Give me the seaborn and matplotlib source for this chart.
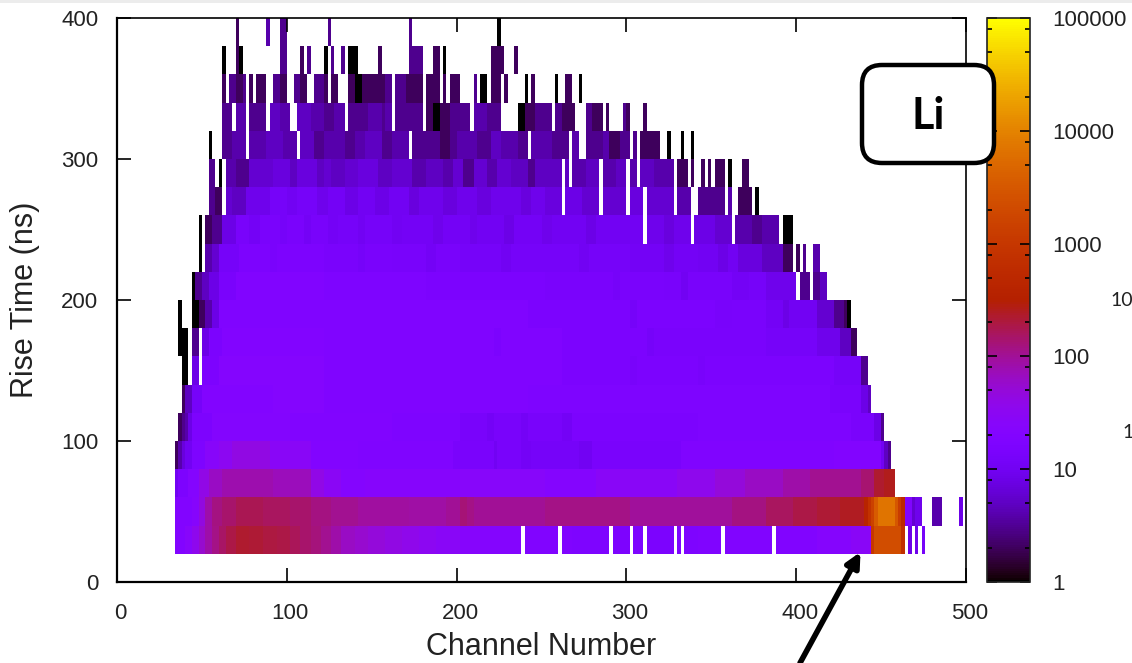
import numpy as np
import pandas as pd
import matplotlib
matplotlib.use('Agg')
import matplotlib.pyplot as plt
import seaborn as sns
from matplotlib.colors import ListedColormap, LogNorm
from matplotlib.patches import FancyBboxPatch, Rectangle
from matplotlib.transforms import ScaledTranslation

# histogram counts, each row: (first bin, last bin, count), one bin = 2 channels
rt_20 = [(17,19,20),(20,21,25),(22,23,35),(24,25,55),(26,27,85),(28,29,115),(30,31,150),(32,34,190),
         (35,38,230),(39,42,220),(43,46,200),(47,50,185),(51,53,165),(54,56,145),(57,59,125),(60,62,105),
         (63,65,85),(66,69,65),(70,73,55),(74,78,48),(79,83,42),(84,88,38),(89,93,33),(94,100,28),
         (101,106,24),(107,118,22),(120,129,19),(131,133,18),(134,144,17),(146,150,16),(152,154,17),
         (156,163,15),(165,165,17),(167,170,17),(171,177,18),(179,192,19),(194,205,19),(206,215,23),
         (216,221,28),(222,222,1000),(223,230,2200),(231,231,700),(233,233,8),(235,235,9),(237,237,12)]
rt_40 = [(17,21,20),(22,23,24),(24,25,45),(26,27,85),(28,30,120),(31,34,145),(35,42,175),(43,50,160),
         (51,56,145),(57,62,120),(63,70,105),(71,85,92),(86,96,88),(97,100,100),(101,102,130),(103,104,115),
         (105,125,100),(126,150,115),(151,180,95),(181,190,120),(191,198,160),(199,205,190),(206,212,220),
         (213,219,250),(220,220,400),(221,221,800),(222,222,1500),(223,223,3500),(224,228,7000),
         (229,229,3000),(230,230,1200),(231,231,500),(232,233,18),(234,234,6),(235,236,9),(240,242,4),
         (248,248,8)]
rt_60 = [(17,17,10),(18,20,16),(21,23,22),(24,26,40),(27,30,65),(31,45,80),(46,56,70),(57,60,40),(61,65,30),
         (66,72,22),(73,100,24),(101,125,26),(126,140,22),(141,164,28),(165,175,35),(176,184,50),(185,195,65),
         (196,203,85),(204,218,105),(219,222,140),(223,225,230),(226,228,260)]
rt_80 = [(17,17,2),(18,18,4),(19,19,7),(20,21,10),(22,25,17),(26,29,26),(30,33,32),(34,44,42),(45,56,28),
         (57,70,20),(71,98,18),(99,110,14),(111,111,10),(112,118,13),(119,121,11),(122,135,12),(136,139,10),
         (140,165,14),(166,210,18),(211,224,20),(225,225,10),(226,226,5),(227,227,3)]
rt_100 = [(18,18,2),(19,19,3),(20,20,4),(21,21,8),(22,27,16),(28,50,21),(51,80,19),(81,100,17),(101,108,13),
          (109,110,11),(111,118,13),(119,120,11),(121,130,13),(131,133,11),(134,170,15),(171,215,17),
          (216,222,14),(223,224,8),(225,225,3)]
rt_120 = [(19,19,2),(20,21,5),(22,24,12),(25,45,20),(46,60,22),(61,120,18),(121,209,17),(210,218,14),
          (219,220,8),(221,221,5)]
rt_140 = [(19,20,1),(22,23,8),(25,29,16),(30,60,22),(61,130,18),(131,150,15),(151,152,13),(153,170,15),
          (171,172,13),(173,210,15),(211,218,12),(219,220,3)]
rt_160 = [(18,20,1),(22,23,3),(25,26,8),(27,30,15),(31,60,20),(61,110,18),(111,112,15),(113,130,18),
          (131,155,15),(156,157,12),(158,190,14),(191,205,12),(206,212,9),(213,215,5),(216,217,2)]
rt_180 = [(18,18,1),(22,23,1),(24,25,2),(26,27,4),(28,29,8),(30,60,18),(61,120,18),(121,150,15),(151,152,12),
          (153,175,15),(176,180,13),(181,190,14),(191,195,11),(196,197,8),(198,205,10),(206,210,6),
          (211,213,3),(214,214,2),(215,215,1)]
rt_200 = [(22,22,1),(23,24,3),(25,26,5),(27,29,8),(30,34,14),(35,60,19),(61,90,17),(91,125,15),
          (126,145,14),(146,147,12),(148,160,14),(161,165,13),(166,167,10),(168,180,13),(181,185,11),
          (186,190,12),(191,199,9),(201,203,3),(205,206,3),(207,208,5)]
rt_220 = [(24,24,1),(26,27,4),(28,29,6),(30,35,12),(36,44,16),(45,46,14),(47,60,16),(61,70,14),(71,72,12),
          (73,80,14),(81,90,13),(91,93,11),(94,100,13),(101,112,12),(113,115,10),(116,125,12),(126,135,12),
          (136,138,10),(139,150,12),(151,160,11),(161,163,9),(164,170,11),(171,176,10),(177,179,8),
          (180,182,10),(183,189,7),(190,195,5),(196,198,2),(200,200,2),(202,202,3),(205,206,4)]
rt_240 = [(24,24,1),(26,27,2),(28,30,3),(31,34,8),(35,38,13),(39,41,11),(42,47,14),(48,49,12),(50,54,14),
          (55,56,11),(57,61,13),(62,64,11),(65,70,12),(71,72,10),(73,80,12),(81,83,10),(84,92,11),(93,95,9),
          (96,103,11),(104,105,9),(106,113,10),(114,116,8),(117,124,11),(125,127,9),(128,137,10),(138,140,8),
          (141,154,10),(156,160,9),(161,163,7),(164,168,9),(170,175,8),(176,180,6),(182,186,4),(187,189,3),
          (190,191,4),(192,194,4),(196,198,1)]
rt_260 = [(27,28,3),(29,30,2),(32,33,6),(34,37,5),(38,44,9),(45,49,12),(50,52,10),(53,58,12),(59,61,9),
          (62,66,11),(67,70,8),(71,75,10),(76,79,8),(80,85,10),(86,88,7),(89,95,9),(96,99,7),(100,105,9),
          (106,109,7),(110,118,9),(119,121,7),(122,125,9),(126,130,7),(132,136,8),(137,141,6),(143,149,6),
          (151,154,7),(156,163,6),(165,168,4),(171,174,3),(175,178,3),(180,180,4),(183,186,2),(188,188,1)]
rt_280 = [(27,28,3),(30,30,1),(32,34,4),(35,38,3),(39,45,6),(46,50,7),(51,52,5),(53,58,7),(59,60,5),(61,62,6),
          (63,66,5),(67,70,6),(71,76,7),(77,80,5),(81,86,6),(87,90,4),(91,95,5),(96,98,4),(99,101,6),(102,104,3),
          (105,108,6),(109,111,4),(112,115,6),(116,120,5),(121,122,3),(123,130,5),(132,132,5),(134,137,4),
          (138,141,5),(143,146,4),(147,149,5),(151,152,4),(154,157,5),(158,163,4),(165,167,2),(169,169,2),
          (172,172,2),(174,174,2),(176,178,2),(180,180,1),(184,185,2)]
rt_300 = [(27,27,1),(31,33,3),(34,37,4),(39,43,4),(44,48,5),(49,52,4),(54,57,5),(58,60,3),(61,66,4),(67,69,3),
          (70,72,4),(73,77,5),(78,80,3),(81,85,4),(87,90,3),(91,94,3),(95,97,2),(98,99,3),(100,105,4),(106,109,3),
          (110,112,5),(113,117,4),(118,120,3),(122,127,4),(128,132,3),(134,135,4),(138,142,3),(143,144,4),
          (145,147,2),(148,150,3),(152,152,3),(154,157,2),(158,159,2),(162,162,1),(166,166,1),(169,169,1)]
rt_320 = [(31,33,3),(35,37,4),(39,41,3),(42,43,3),(45,47,5),(48,50,4),(53,56,5),(57,60,4),(61,63,3),
          (64,66,4),(68,73,3),(74,77,4),(78,78,3),(79,80,4),(82,84,3),(85,89,3),(91,92,2),(93,94,1),
          (95,97,2),(98,103,3),(105,108,4),(109,112,3),(118,119,1),(120,122,2),(123,127,3),(129,130,3),
          (131,134,2),(138,139,3),(140,142,2),(144,144,2),(149,149,3),(150,150,2),(155,155,2)]
rt_340 = [(31,31,2),(33,34,3),(35,36,2),(37,37,3),(39,39,2),(41,43,2),(46,47,3),(48,49,2),(52,53,3),
          (54,55,2),(58,60,3),(61,61,2),(63,64,2),(68,69,2),(70,71,1),(72,73,2),(74,76,2),(77,78,2),
          (79,80,3),(82,84,3),(85,86,2),(87,89,2),(91,91,2),(92,94,2),(96,96,2),(98,100,2),(105,105,3),
          (107,108,1),(110,112,2),(114,114,2),(120,120,1),(122,122,2),(129,129,1),(132,133,2),(136,136,1)]
rt_360 = [(31,31,1),(35,35,2),(36,36,1),(48,49,3),(54,54,2),(56,56,3),(61,61,1),(63,63,3),(66,66,3),
          (68,70,1),(77,77,2),(86,87,3),(88,89,3),(93,94,2),(96,96,1),(110,112,2),(113,113,2),(117,117,2)]
rt_380 = [(35,35,2),(44,44,4),(48,49,3),(62,62,3),(86,86,3),(112,112,1)]

rise_rows = [[], rt_20, rt_40, rt_60, rt_80, rt_100, rt_120, rt_140, rt_160, rt_180, rt_200,
             rt_220, rt_240, rt_260, rt_280, rt_300, rt_320, rt_340, rt_360, rt_380]

channel_ticks = [0, 100, 200, 300, 400, 500]
rise_ticks = [0, 100, 200, 300, 400]
count_ticks = [1, 10, 100, 1000, 10000, 100000]
count_minor = [2, 5, 8, 20, 50, 80, 200, 500, 800, 2000, 5000, 8000, 20000, 50000, 80000]

W, H = 1132, 663
bin_channels = 2
bin_ns = 20

grid = np.zeros((len(rise_rows), 250))
for r, spans in enumerate(rise_rows):
    for first, last, count in spans:
        grid[r, first:last + 1] = count
df = pd.DataFrame(grid)

# gnuplot default palette, rgbformulae 7,5,15
t = np.linspace(0, 1, 256)
palette = ListedColormap(np.column_stack([np.sqrt(t), t ** 3, np.clip(np.sin(2 * np.pi * t), 0, 1)]))

plt.rcParams['font.family'] = ['Liberation Sans', 'DejaVu Sans']
fig = plt.figure(figsize=(W / 100, H / 100), dpi=100)
ax = fig.add_axes([117 / W, (H - 582) / H, 849 / W, 564 / H])
cax = fig.add_axes([987 / W, (H - 582) / H, 43 / W, 564 / H])

sns.heatmap(df, ax=ax, cbar_ax=cax, cmap=palette, norm=LogNorm(1, 100000), mask=grid == 0,
            xticklabels=False, yticklabels=False)
ax.set_ylim(0, len(rise_rows))
ax.set_xlim(0, 250)

txt = '#222222'
ax.set_xticks([c / bin_channels for c in channel_ticks])
ax.set_xticklabels(channel_ticks, rotation=0)
ax.set_yticks([r / bin_ns for r in rise_ticks])
ax.set_yticklabels(rise_ticks, rotation=0)
ax.tick_params(axis='both', direction='in', length=10, width=1.2, top=True, right=True,
               labelsize=16, labelcolor=txt, color='black')
ax.tick_params(axis='x', pad=15)
ax.tick_params(axis='y', pad=13.5)
# x tick labels sit a little right of their ticks in the original
for lab in ax.get_xticklabels():
    lab.set_transform(lab.get_transform() + ScaledTranslation(3.5 / 100, 0, fig.dpi_scale_trans))
ax.set_xlabel('Channel Number', fontsize=22, color=txt)
ax.set_ylabel('Rise Time (ns)', fontsize=22, color=txt)
ax.xaxis.set_label_coords(0.5, -0.0887)
ax.yaxis.set_label_coords(-0.0907, 0.5)
for side, lw in zip(['left', 'bottom', 'right', 'top'], [1.6, 1.6, 1.2, 1.2]):
    ax.spines[side].set_visible(True)
    ax.spines[side].set_linewidth(lw)
    ax.spines[side].set_color('black')

cbar = ax.collections[0].colorbar
cbar.set_ticks(count_ticks)
cbar.set_ticklabels([str(c) for c in count_ticks])
cbar.ax.set_yticks(count_minor, minor=True)
cbar.ax.set_yticklabels([], minor=True)
cbar.ax.tick_params(which='major', direction='in', length=7, width=1.2, left=True, right=True,
                    labelsize=16, labelcolor=txt, pad=16)
cbar.ax.tick_params(which='minor', direction='in', length=3.5, width=1.2, left=True, right=True)
cbar.outline.set_visible(True)
cbar.outline.set_linewidth(1.2)
cbar.outline.set_edgecolor('#222222')

# slide overlays, placed in figure pixels
fig.patches.append(Rectangle((0, 1 - 2.5 / H), 1, 2.5 / H, transform=fig.transFigure, facecolor='#ececec',
                             edgecolor='none', figure=fig))

box = FancyBboxPatch((880, H - 145), 96, 62, boxstyle='round,pad=18,rounding_size=20',
                     transform=None, facecolor='white', edgecolor='black', linewidth=3.2,
                     zorder=10, figure=fig)
fig.patches.append(box)
fig.text(928 / W, 1 - 116 / H, 'Li', fontsize=31, fontweight='bold', family=['Lato', 'DejaVu Sans'],
         ha='center', va='center', color='black', zorder=11)

ax.annotate('', xy=(860.5, H - 552), xytext=(800, 0), xycoords='figure pixels', textcoords='figure pixels',
            arrowprops=dict(arrowstyle='-|>,head_length=0.85,head_width=0.42', color='black', lw=4,
                            shrinkA=0, shrinkB=0), annotation_clip=False, zorder=12)

# cut-off labels left over from the slide
fig.text(1110 / W, 1 - 301 / H, '10', fontsize=14, color=txt, ha='left', va='center',
         family=['Lato', 'DejaVu Sans'])
fig.text(1122 / W, 1 - 433 / H, '1', fontsize=14, color=txt, ha='left', va='center',
         family=['Lato', 'DejaVu Sans'])

fig.savefig('out.png', dpi=100)
